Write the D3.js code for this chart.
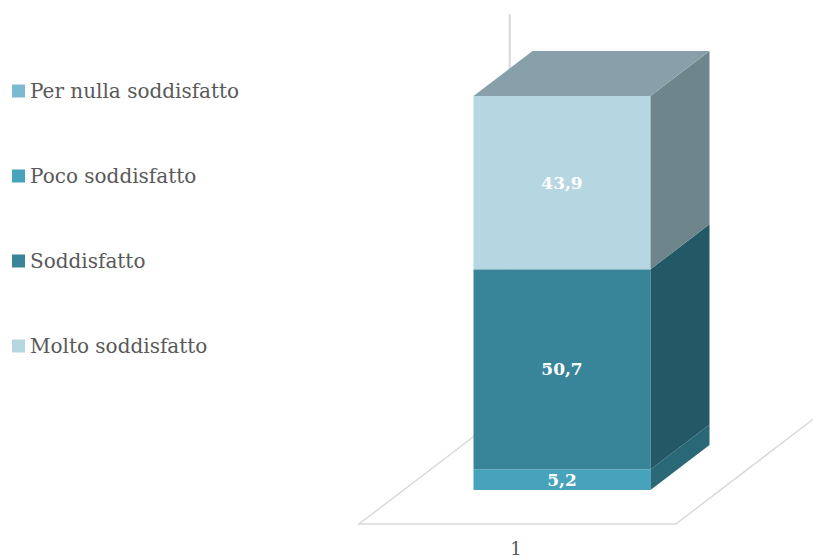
<!DOCTYPE html>
<html>
<head>
<meta charset="utf-8">
<script src="https://cdn.jsdelivr.net/npm/d3@7"></script>
<style>
  html, body { margin: 0; padding: 0; background: #fff; }
  svg { display: block; }
</style>
</head>
<body>
<svg id="chart" width="813" height="558"></svg>
<script>
// Survey results: satisfaction levels (percent), one stacked 3D column
const categories = ["1"];
const seriesNames = ["Per nulla soddisfatto", "Poco soddisfatto", "Soddisfatto", "Molto soddisfatto"];
const seriesValues = [0, 5.2, 50.7, 43.9];
const seriesLabels = ["", "5,2", "50,7", "43,9"];
const frontColors = ["#7bbbd1", "#46a3bb", "#38859a", "#b6d6e1"];
const sideColors  = ["#4e8a9c", "#2b6877", "#235867", "#6f858c"];
const topColors   = ["#6aa2b3", "#3a8294", "#2e6c7c", "#87a0a9"];

const svg = d3.select("#chart");
const font = "'DejaVu Serif', 'Liberation Serif', serif";

// value axis and category axis of the front plane
const y = d3.scaleLinear().domain([0, 100]).range([490, 95.2]);
const x = d3.scaleBand().domain(categories).range([403.6, 720.4]).paddingInner(0).paddingOuter(0.395);

// oblique depth projection: unit depth = bar depth
const DX = 59, DY = -45;
const P = (px, py, z) => [px + DX * z, py + DY * z];
const zFront = -0.756, zBack = 1.8;
const line = d3.line();

// floor outline (left, front and right edges)
const x0 = 403.6, x1 = 720.4;
svg.append("path")
  .attr("d", line([P(x0, y(0), zBack), P(x0, y(0), zFront), P(x1, y(0), zFront), P(x1, y(0), zBack)]))
  .attr("fill", "none").attr("stroke", "#d9d9d9").attr("stroke-width", 1.5);

// back-left wall edge
svg.append("path")
  .attr("d", line([P(x0, y(0), zBack), P(x0, y(100), zBack)]))
  .attr("stroke", "#d9d9d9").attr("stroke-width", 2);

// stacked segments
let acc = 0;
const segs = seriesValues.map((v, i) => {
  const s = { i, v, y0: acc, y1: acc + v };
  acc += v;
  return s;
});

const bx0 = x("1"), bx1 = x("1") + x.bandwidth();
const g = svg.append("g");
segs.filter(s => s.v > 0).forEach(s => {
  const yb = y(s.y0), yt = y(s.y1);
  // front face
  g.append("rect").attr("x", bx0).attr("y", yt).attr("width", bx1 - bx0).attr("height", yb - yt)
    .attr("fill", frontColors[s.i]);
  // side face
  g.append("path")
    .attr("d", line([P(bx1, yb, 0), P(bx1, yb, 1), P(bx1, yt, 1), P(bx1, yt, 0)]) + "Z")
    .attr("fill", sideColors[s.i]);
});
// top face of the stack
const topSeg = segs.filter(s => s.v > 0).slice(-1)[0];
g.append("path")
  .attr("d", line([P(bx0, y(topSeg.y1), 0), P(bx1, y(topSeg.y1), 0), P(bx1, y(topSeg.y1), 1), P(bx0, y(topSeg.y1), 1)]) + "Z")
  .attr("fill", topColors[topSeg.i]);

// data labels
segs.filter(s => s.v > 0 && seriesLabels[s.i]).forEach(s => {
  g.append("text")
    .attr("x", (bx0 + bx1) / 2)
    .attr("y", (y(s.y0) + y(s.y1)) / 2)
    .attr("dy", "0.35em")
    .attr("text-anchor", "middle")
    .attr("fill", "#fff")
    .attr("font-family", font)
    .attr("font-weight", "bold")
    .attr("font-size", 17)
    .text(seriesLabels[s.i]);
});

// category label
svg.append("text")
  .attr("x", 516)
  .attr("y", 555)
  .attr("text-anchor", "middle")
  .attr("fill", "#595959")
  .attr("font-family", font)
  .attr("font-size", 18)
  .text(categories[0]);

// legend
const legend = svg.append("g");
seriesNames.forEach((name, i) => {
  const cy = 91 + i * 85;
  legend.append("rect").attr("x", 12).attr("y", cy - 6.5).attr("width", 13).attr("height", 13)
    .attr("fill", frontColors[i]);
  legend.append("text")
    .attr("x", 30).attr("y", cy).attr("dy", "0.35em")
    .attr("fill", "#595959")
    .attr("font-family", font)
    .attr("font-size", 20)
    .text(name);
});
</script>
</body>
</html>
